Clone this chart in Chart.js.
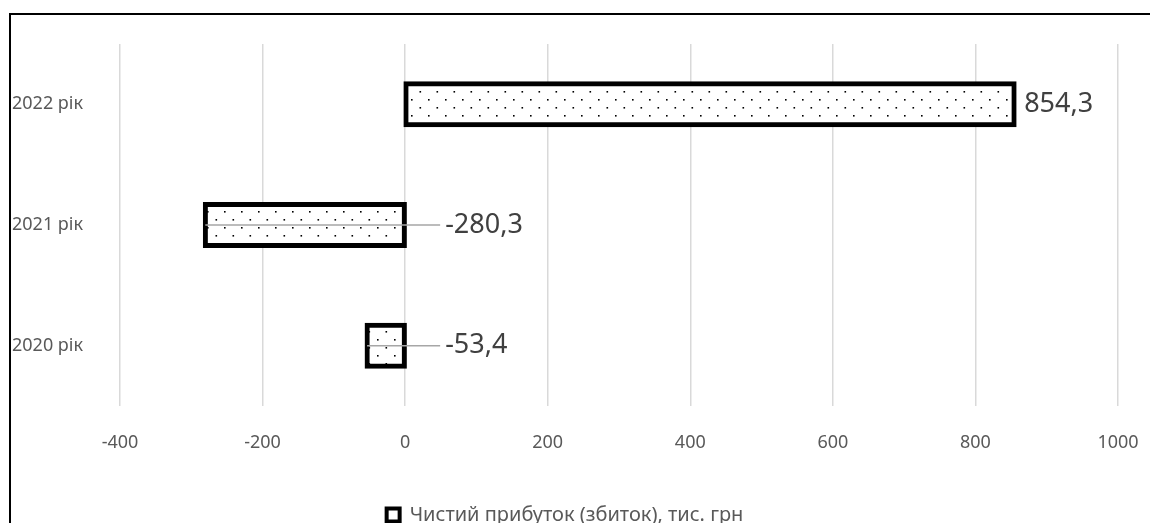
<!DOCTYPE html>
<html>
<head>
<meta charset="utf-8">
<script src="https://cdn.jsdelivr.net/npm/chart.js@4"></script>
<style>
  html, body { margin: 0; padding: 0; background: #fff; overflow: hidden; }
  #wrap { position: relative; width: 1150px; height: 535px; }
  #frame {
    position: absolute; left: 9px; top: 13px; width: 1200px; height: 600px;
    border-top: 2px solid #000; border-left: 2px solid #000; pointer-events: none;
  }
</style>
</head>
<body>
<div id="wrap">
  <canvas id="chart" width="1150" height="535"></canvas>
  <div id="frame"></div>
</div>
<script>
// --- data ---
const years = ['2022 рік', '2021 рік', '2020 рік'];
const netProfit = [854.3, -280.3, -53.4];
const seriesName = 'Чистий прибуток (збиток), тис. грн';
const xTicks = [-400, -200, 0, 200, 400, 600, 800, 1000];

const TEXT = '#595959';
const FONT = 'Noto Sans';

// dotted fill like the Excel "small confetti" pattern
function makeDots() {
  const c = document.createElement('canvas');
  c.width = 17; c.height = 16;
  const g = c.getContext('2d');
  g.fillStyle = '#fff';
  g.fillRect(0, 0, 17, 16);
  g.fillStyle = '#000';
  g.fillRect(3, 3, 1.6, 1.6);
  g.fillRect(11.5, 11, 1.6, 1.6);
  return g.createPattern(c, 'repeat');
}

const fmt = v => String(v).replace('.', ',');

// value labels (with gray leader lines for the negative bars)
const valueLabels = {
  id: 'valueLabels',
  afterDatasetsDraw(chart) {
    const { ctx, scales: { x } } = chart;
    const meta = chart.getDatasetMeta(0);
    const zero = x.getPixelForValue(0);
    ctx.save();
    ctx.font = '27px "' + FONT + '"';
    ctx.fillStyle = '#404040';
    ctx.textBaseline = 'middle';
    meta.data.forEach((bar, i) => {
      const v = netProfit[i];
      const y = bar.y;
      if (v >= 0) {
        ctx.fillText(fmt(v), bar.x + 10, y);
      } else {
        const lx = zero + 40;
        ctx.strokeStyle = '#a6a6a6';
        ctx.lineWidth = 1.5;
        ctx.beginPath();
        ctx.moveTo(bar.x, y);
        ctx.lineTo(lx - 5, y);
        ctx.stroke();
        ctx.fillText(fmt(v), lx, y);
      }
    });
    ctx.restore();
  }
};

new Chart(document.getElementById('chart'), {
  type: 'bar',
  data: {
    labels: years,
    datasets: [{
      label: seriesName,
      data: netProfit,
      backgroundColor: makeDots(),
      borderColor: '#000',
      borderWidth: 5,
      borderSkipped: false,
      inflateAmount: 2.5,
      barThickness: 41
    }]
  },
  options: {
    indexAxis: 'y',
    responsive: false,
    animation: false,
    layout: { padding: { top: 44, left: 12, right: 32, bottom: 0 } },
    scales: {
      x: {
        min: -400, max: 1000,
        afterBuildTicks: s => { s.ticks = xTicks.map(v => ({ value: v })); },
        grid: { color: '#d9d9d9', lineWidth: 1.5, drawTicks: false },
        border: { display: false },
        ticks: {
          color: TEXT, font: { family: FONT, size: 18 }, padding: 26,
          callback: v => String(v)
        },
        afterFit: s => { s.height = 87; s.paddingLeft = 0; s.paddingRight = 0; }
      },
      y: {
        grid: { display: false },
        border: { display: false },
        ticks: { color: TEXT, font: { family: FONT, size: 18 }, crossAlign: 'far', padding: 0 },
        afterFit: s => { s.width = 108; }
      }
    },
    plugins: {
      tooltip: { enabled: false },
      legend: {
        position: 'bottom',
        labels: {
          color: TEXT,
          font: { family: FONT, size: 20 },
          boxWidth: 13, boxHeight: 13,
          padding: 12,
          generateLabels: () => [{
            text: seriesName,
            fillStyle: '#fff',
            strokeStyle: '#000',
            lineWidth: 4,
            fontColor: TEXT
          }]
        }
      }
    }
  },
  plugins: [valueLabels]
});
</script>
</body>
</html>
